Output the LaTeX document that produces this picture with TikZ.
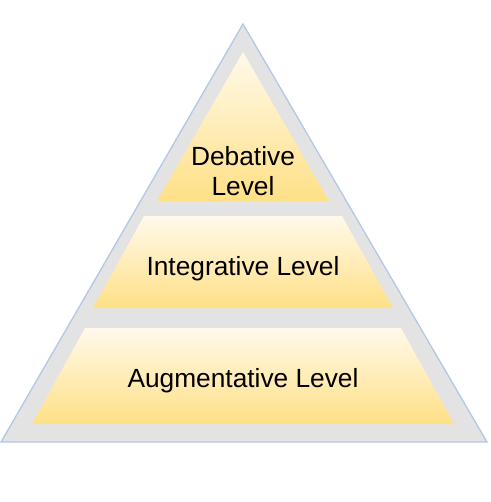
\documentclass[tikz,border=0pt]{standalone}
\usepackage{fontspec}
\setmainfont{Liberation Sans}
\usepackage{xcolor}

\definecolor{pyrgray}{HTML}{E3E3E3}
\definecolor{pyredge}{HTML}{B4C7E7}
\definecolor{lvltop}{HTML}{FFF9EA}
\definecolor{lvlbot}{HTML}{FFE086}

\begin{document}
\begin{tikzpicture}[
  x=1pt, y=-1pt,
  pyramid/.style={fill=pyrgray, draw=pyredge, line width=1.3pt},
  tier/.style={top color=lvltop, bottom color=lvlbot, draw=none},
  lbl/.style={align=center, text=black, font=\fontsize{26.3}{30}\selectfont}
]
  \useasboundingbox (0,0) rectangle (490,502);

  % outer body
  \draw[pyramid] (243,24) -- (487,442) -- (1,442) -- cycle;

  % the three tiers
  \shade[tier] (243,52) -- (329,201) -- (157,201) -- cycle;
  \shade[tier] (144,216) -- (342,216) -- (393,308) -- (93,308) -- cycle;
  \shade[tier] (85,328) -- (401,328) -- (454,424) -- (32,424) -- cycle;

  \node[lbl] (debative) at (243,171) {Debative\\Level};
  \node[lbl] (integrative) at (243,269) {Integrative Level};
  \node[lbl] (augmentative) at (243,381) {Augmentative Level};
\end{tikzpicture}
\end{document}
